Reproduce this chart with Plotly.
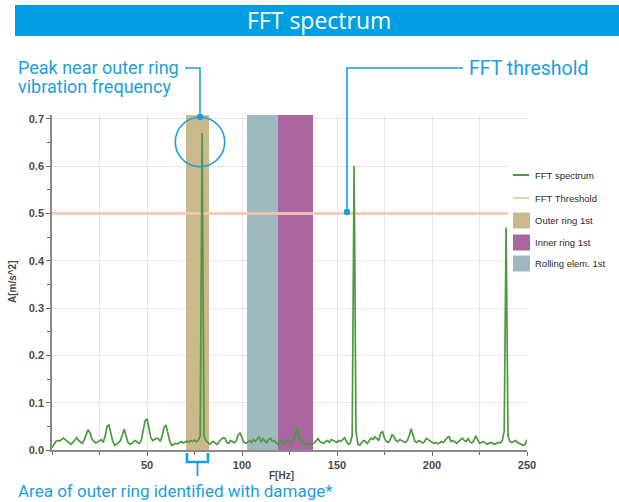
import plotly.graph_objects as go

# ---------------- data ----------------
freq_hz = list(range(0, 251))
amplitude = [
    0.005, 0.012, 0.018, 0.020, 0.019, 0.022, 0.025, 0.022, 0.018, 0.014,
    0.012, 0.016, 0.022, 0.026, 0.020, 0.016, 0.014, 0.022, 0.035, 0.043,
    0.036, 0.024, 0.018, 0.015, 0.017, 0.020, 0.022, 0.016, 0.030, 0.050,
    0.053, 0.035, 0.018, 0.010, 0.012, 0.015, 0.020, 0.035, 0.044, 0.030,
    0.016, 0.012, 0.014, 0.018, 0.020, 0.016, 0.014, 0.020, 0.040, 0.062,
    0.066, 0.045, 0.026, 0.020, 0.022, 0.025, 0.024, 0.018, 0.030, 0.048,
    0.053, 0.035, 0.018, 0.010, 0.012, 0.014, 0.013, 0.016, 0.018, 0.015,
    0.016, 0.019, 0.017, 0.020, 0.018, 0.021, 0.017, 0.020, 0.030, 0.670,
    0.030, 0.020, 0.015, 0.012, 0.016, 0.018, 0.014, 0.012, 0.018, 0.022,
    0.026, 0.025, 0.016, 0.014, 0.020, 0.018, 0.015, 0.020, 0.032, 0.036,
    0.025, 0.016, 0.014, 0.018, 0.020, 0.016, 0.022, 0.018, 0.024, 0.028,
    0.017, 0.024, 0.019, 0.016, 0.022, 0.025, 0.018, 0.020, 0.015, 0.012,
    0.016, 0.020, 0.014, 0.018, 0.022, 0.016, 0.014, 0.020, 0.035, 0.048,
    0.030, 0.020, 0.016, 0.014, 0.012, 0.010, 0.014, 0.012, 0.015, 0.020,
    0.024, 0.018, 0.016, 0.014, 0.018, 0.020, 0.016, 0.022, 0.020, 0.018,
    0.016, 0.020, 0.018, 0.022, 0.026, 0.018, 0.012, 0.015, 0.030, 0.600,
    0.040, 0.012, 0.010, 0.016, 0.020, 0.018, 0.014, 0.020, 0.025, 0.022,
    0.028, 0.024, 0.020, 0.036, 0.039, 0.025, 0.018, 0.016, 0.022, 0.032,
    0.028, 0.020, 0.018, 0.022, 0.020, 0.018, 0.016, 0.020, 0.030, 0.045,
    0.030, 0.018, 0.016, 0.020, 0.018, 0.015, 0.017, 0.025, 0.022, 0.019,
    0.016, 0.014, 0.016, 0.013, 0.015, 0.018, 0.016, 0.022, 0.026, 0.028,
    0.018, 0.020, 0.016, 0.014, 0.018, 0.022, 0.025, 0.020, 0.018, 0.024,
    0.017, 0.015, 0.020, 0.030, 0.020, 0.014, 0.016, 0.018, 0.015, 0.012,
    0.014, 0.016, 0.014, 0.012, 0.014, 0.016, 0.015, 0.020, 0.040, 0.470,
    0.030, 0.018, 0.016, 0.018, 0.020, 0.016, 0.014, 0.012, 0.010, 0.012,
    0.022,
]
threshold_value = 0.5

band_names = ["Outer ring 1st", "Inner ring 1st", "Rolling elem. 1st"]
band_start_hz = [70.5, 119.0, 102.4]
band_end_hz = [82.5, 137.5, 119.0]
band_colors = ["#c9b98c", "#a966a1", "#a0b9be"]

x_ticks = [50, 100, 150, 200, 250]
y_ticks = [0.0, 0.1, 0.2, 0.3, 0.4, 0.5, 0.6, 0.7]

# ---------------- layout constants ----------------
W, H = 619, 502
L, R, T, B = 52, 527, 115, 450      # plot area in pixels
Y_MAX = 0.708
BLUE = "#1a9fe0"
GREEN = "#4b9a3e"
PEACH = "#f2c9b4"


def px(x):
    return (x - L) / (R - L)


def py(y):
    return (B - y) / (B - T)


fig = go.Figure()

# bands (bars spanning the frequency ranges)
for name, s, e, c in zip(band_names, band_start_hz, band_end_hz, band_colors):
    fig.add_trace(go.Bar(
        x=[(s + e) / 2], y=[Y_MAX], width=[e - s], base=0,
        marker=dict(color=c, line=dict(width=0)), name=name,
        showlegend=False, hoverinfo="name",
    ))

# threshold
fig.add_trace(go.Scatter(
    x=[freq_hz[0], freq_hz[-1]], y=[threshold_value, threshold_value],
    mode="lines", line=dict(color=PEACH, width=3), opacity=0.9,
    name="FFT Threshold", showlegend=False,
))

# spectrum
fig.add_trace(go.Scatter(
    x=freq_hz, y=amplitude, mode="lines",
    line=dict(color=GREEN, width=1.7), name="FFT spectrum", showlegend=False,
))

axis_font = dict(family="Liberation Sans, Arial", size=11, color="#4a4a4a", weight="bold")

fig.update_layout(
    width=W, height=H, autosize=False,
    margin=dict(l=L, r=W - R, t=T, b=H - B, pad=0),
    paper_bgcolor="white", plot_bgcolor="white",
    barmode="overlay", bargap=0,
    showlegend=False,
    xaxis=dict(
        range=[0, 250], tickvals=x_ticks, ticks="outside", ticklen=4,
        tickcolor="#666", tickwidth=1, tickfont=axis_font,
        showgrid=True, gridcolor="#e6e6e6", gridwidth=1,
        showline=True, linecolor="#8a8a8a", linewidth=1.5,
        zeroline=False,
        minor=dict(dtick=25, tick0=0, ticks="outside", ticklen=3, tickcolor="#666",
                   showgrid=True, gridcolor="#e6e6e6"),
    ),
    yaxis=dict(
        range=[0, Y_MAX], tickvals=y_ticks, tickformat=".1f", ticks="outside",
        ticklen=4, tickcolor="#666", tickfont=axis_font,
        showgrid=True, gridcolor="#e6e6e6", gridwidth=1,
        showline=True, linecolor="#8a8a8a", linewidth=1.5, zeroline=False,
        minor=dict(dtick=0.05, tick0=0, ticks="outside", ticklen=3, tickcolor="#666",
                   showgrid=False),
    ),
)

shapes = []
annotations = []

# title banner
shapes.append(dict(type="rect", xref="paper", yref="paper", layer="above",
                   x0=px(15), x1=px(625), y0=py(36), y1=py(5),
                   fillcolor="#009fe3", line=dict(width=0)))
annotations.append(dict(text="FFT spectrum", xref="paper", yref="paper",
                        x=px(319), y=py(20.5), xanchor="center", yanchor="middle",
                        showarrow=False,
                        font=dict(family="Open Sans", size=23, color="white")))

# custom legend
shapes.append(dict(type="rect", xref="paper", yref="paper", layer="above",
                   x0=px(508), x1=px(619), y0=py(276), y1=py(165),
                   fillcolor="white", line=dict(width=0)))
legend_rows = [
    ("FFT spectrum", "line", GREEN, 175),
    ("FFT Threshold", "line", PEACH, 198),
    (band_names[0], "box", band_colors[0], 220.5),
    (band_names[1], "box", band_colors[1], 242.5),
    (band_names[2], "box", band_colors[2], 263.5),
]
for label, kind, color, yc in legend_rows:
    if kind == "line":
        shapes.append(dict(type="line", xref="paper", yref="paper", layer="above",
                           x0=px(513), x1=px(529), y0=py(yc), y1=py(yc),
                           line=dict(color=color, width=2)))
    else:
        shapes.append(dict(type="rect", xref="paper", yref="paper", layer="above",
                           x0=px(513), x1=px(530), y0=py(yc + 8), y1=py(yc - 8),
                           fillcolor=color, line=dict(width=0)))
    annotations.append(dict(text=label, xref="paper", yref="paper",
                            x=px(533), y=py(yc), xanchor="left", yanchor="middle",
                            showarrow=False,
                            font=dict(family="Liberation Sans, Arial", size=9.5,
                                      color="#2a2a2a")))

# axis titles
annotations.append(dict(text="A[m/s^2]", xref="paper", yref="paper",
                        x=px(12), y=py(282), xanchor="center", yanchor="middle",
                        textangle=-90, showarrow=False,
                        font=dict(family="Liberation Sans, Arial", size=10,
                                  color="#4a4a4a", weight="bold")))
annotations.append(dict(text="F[Hz]", xref="paper", yref="paper",
                        x=px(281), y=py(475.5), xanchor="center", yanchor="middle",
                        showarrow=False,
                        font=dict(family="Liberation Sans, Arial", size=10,
                                  color="#4a4a4a", weight="bold")))

# callout texts
callout_font = dict(family="Roboto", size=18, color=BLUE)
annotations.append(dict(text="Peak near outer ring", xref="paper", yref="paper",
                        x=px(16), y=py(67), xanchor="left", yanchor="middle",
                        showarrow=False, font=callout_font))
annotations.append(dict(text="vibration frequency", xref="paper", yref="paper",
                        x=px(16), y=py(86.5), xanchor="left", yanchor="middle",
                        showarrow=False, font=callout_font))
annotations.append(dict(text="FFT threshold", xref="paper", yref="paper",
                        x=px(467), y=py(68), xanchor="left", yanchor="middle",
                        showarrow=False, font=dict(family="Roboto", size=19.5, color=BLUE)))
annotations.append(dict(text="Area of outer ring identified with damage*",
                        xref="paper", yref="paper",
                        x=px(16), y=py(491.5), xanchor="left", yanchor="middle",
                        showarrow=False, font=dict(family="Roboto", size=17, color=BLUE)))


def pth(points):
    return " ".join(("M" if i == 0 else "L") + f"{px(x):.5f},{py(y):.5f}"
                    for i, (x, y) in enumerate(points))


lead = dict(color=BLUE, width=1.6)
shapes.append(dict(type="path", xref="paper", yref="paper", layer="above",
                   path=pth([(185, 68), (200, 68), (200, 117)]), line=lead))
shapes.append(dict(type="path", xref="paper", yref="paper", layer="above",
                   path=pth([(463, 68), (347, 68), (347, 212)]), line=lead))
shapes.append(dict(type="circle", xref="paper", yref="paper", layer="above",
                   x0=px(175.3), x1=px(224.7), y0=py(166.7), y1=py(117.3),
                   line=dict(color=BLUE, width=1.6)))
for (cx, cy) in [(200, 117), (347, 212)]:
    shapes.append(dict(type="circle", xref="paper", yref="paper", layer="above",
                       x0=px(cx - 3.2), x1=px(cx + 3.2), y0=py(cy + 3.2), y1=py(cy - 3.2),
                       fillcolor=BLUE, line=dict(width=0)))
# bracket under outer ring band
shapes.append(dict(type="path", xref="paper", yref="paper", layer="above",
                   path=pth([(187, 453), (187, 462), (208, 462), (208, 453)]),
                   line=dict(color=BLUE, width=2.6)))
shapes.append(dict(type="line", xref="paper", yref="paper", layer="above",
                   x0=px(197.5), x1=px(197.5), y0=py(462), y1=py(476),
                   line=dict(color=BLUE, width=1.8)))

fig.update_layout(shapes=shapes, annotations=annotations)
fig.write_html("out.html", config={"displayModeBar": False},
               post_script="document.body.style.margin='0px';document.body.style.overflow='hidden';")
